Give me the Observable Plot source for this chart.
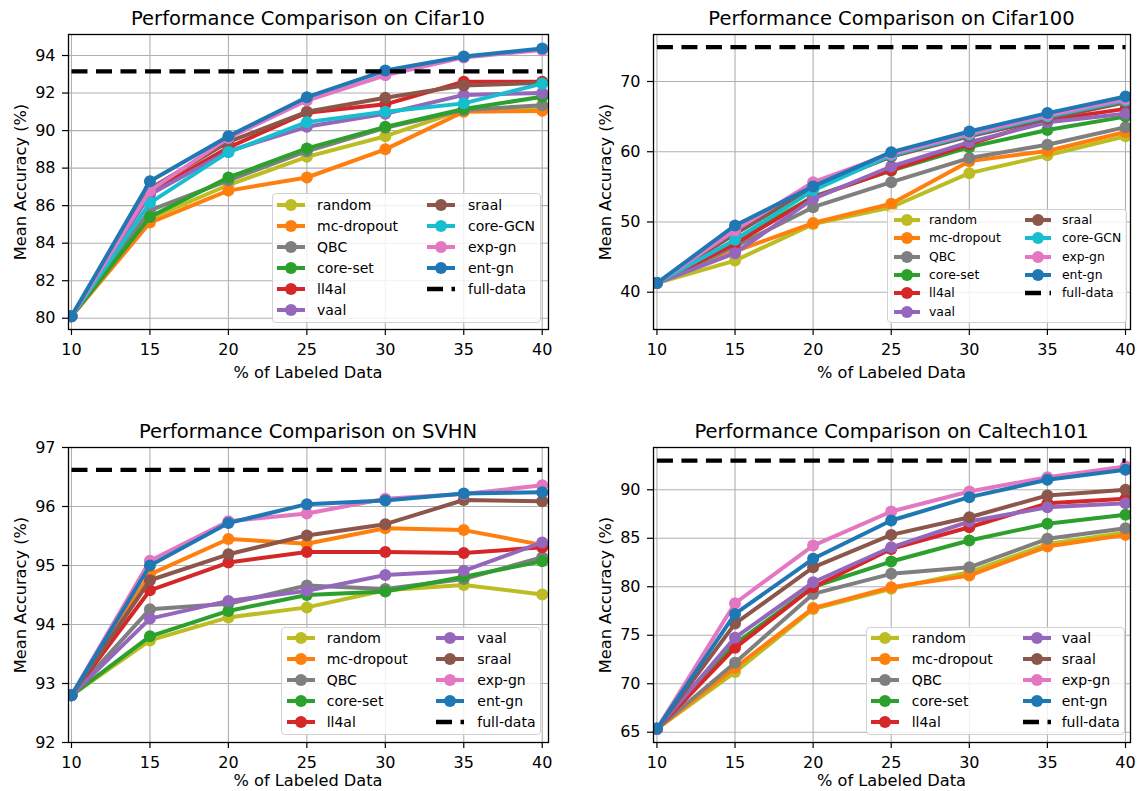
<!DOCTYPE html>
<html>
<head>
<meta charset="utf-8">
<script src="https://cdn.jsdelivr.net/npm/d3@7"></script>
<script src="https://cdn.jsdelivr.net/npm/@observablehq/plot@0.6"></script>
<style>
  html, body { margin: 0; padding: 0; background: #fff; }
  #root { position: relative; width: 1139px; height: 791px; overflow: hidden; font-family: "DejaVu Sans", sans-serif; color: #000; }
  .abs { position: absolute; white-space: nowrap; }
  .title { font-size: 19.5px; transform: translate(-50%, -50%); }
  .xlabel { font-size: 16.2px; transform: translate(-50%, -50%); }
  .ylabel { font-size: 16.2px; transform: translate(-50%, -50%) rotate(-90deg); }
  .legbox { border: 1px solid #d2d2d2; border-radius: 4px; background: rgba(255,255,255,0.82); box-sizing: border-box; }
  .legtext { transform: translateY(-50%); line-height: 1; }
</style>
</head>
<body>
<div id="root"></div>
<script>
// ---------------- data ----------------
const xValues = [10, 15, 20, 25, 30, 35, 40];
const xTicks = [10, 15, 20, 25, 30, 35, 40];

const cifarMethods = ["random", "mc-dropout", "QBC", "core-set", "ll4al", "vaal", "sraal", "core-GCN", "exp-gn", "ent-gn"];
const otherMethods = ["random", "mc-dropout", "QBC", "core-set", "ll4al", "vaal", "sraal", "exp-gn", "ent-gn"];

const cifar10Acc = {
  "random":     [80.1, 85.3, 87.1, 88.6, 89.7, 91.1, 91.15],
  "mc-dropout": [80.1, 85.1, 86.8, 87.5, 89.0, 91.0, 91.05],
  "QBC":        [80.1, 85.75, 87.35, 88.9, 90.15, 91.1, 91.35],
  "core-set":   [80.1, 85.4, 87.5, 89.05, 90.2, 91.15, 91.8],
  "ll4al":      [80.1, 86.7, 89.1, 90.95, 91.4, 92.6, 92.6],
  "vaal":       [80.1, 86.6, 88.9, 90.2, 90.9, 91.9, 92.0],
  "sraal":      [80.1, 86.9, 89.4, 91.0, 91.75, 92.4, 92.55],
  "core-GCN":   [80.1, 86.15, 88.85, 90.45, 91.0, 91.45, 92.5],
  "exp-gn":     [80.1, 86.8, 89.6, 91.6, 92.95, 93.9, 94.3],
  "ent-gn":     [80.1, 87.3, 89.7, 91.78, 93.2, 93.95, 94.38]
};
const cifar10Full = 93.15;
const cifar10YTicks = [80, 82, 84, 86, 88, 90, 92, 94];

const cifar100Acc = {
  "random":     [41.3, 44.5, 49.7, 52.1, 56.95, 59.5, 62.2],
  "mc-dropout": [41.3, 45.8, 49.85, 52.6, 58.66, 60.1, 62.8],
  "QBC":        [41.3, 46.5, 52.1, 55.67, 59.1, 61.0, 63.5],
  "core-set":   [41.3, 47.2, 53.6, 57.3, 60.65, 63.1, 65.0],
  "ll4al":      [41.3, 46.9, 53.5, 57.4, 61.1, 64.5, 66.1],
  "vaal":       [41.3, 45.56, 53.3, 57.9, 61.36, 64.2, 65.4],
  "sraal":      [41.3, 48.3, 54.9, 59.3, 62.2, 64.7, 67.05],
  "core-GCN":   [41.3, 47.46, 54.5, 59.5, 62.4, 65.0, 67.3],
  "exp-gn":     [41.3, 48.8, 55.67, 59.7, 62.6, 65.2, 67.5],
  "ent-gn":     [41.3, 49.5, 55.06, 59.94, 62.88, 65.5, 67.86]
};
const cifar100Full = 74.9;
const cifar100YTicks = [40, 50, 60, 70];

const svhnAcc = {
  "random":     [92.8, 93.73, 94.12, 94.29, 94.58, 94.67, 94.51],
  "mc-dropout": [92.8, 94.85, 95.45, 95.37, 95.63, 95.6, 95.35],
  "QBC":        [92.8, 94.26, 94.35, 94.66, 94.6, 94.77, 95.14],
  "core-set":   [92.8, 93.8, 94.23, 94.5, 94.56, 94.81, 95.07],
  "ll4al":      [92.8, 94.58, 95.05, 95.23, 95.23, 95.21, 95.31],
  "vaal":       [92.8, 94.1, 94.4, 94.57, 94.84, 94.91, 95.39],
  "sraal":      [92.8, 94.75, 95.19, 95.51, 95.7, 96.11, 96.09],
  "exp-gn":     [92.8, 95.08, 95.75, 95.88, 96.13, 96.21, 96.36],
  "ent-gn":     [92.8, 95.0, 95.72, 96.04, 96.1, 96.22, 96.24]
};
const svhnFull = 96.62;
const svhnYTicks = [92, 93, 94, 95, 96, 97];

const caltechAcc = {
  "random":     [65.35, 71.2, 77.7, 79.8, 81.5, 84.4, 85.6],
  "mc-dropout": [65.35, 71.65, 77.8, 79.95, 81.15, 84.15, 85.35],
  "QBC":        [65.35, 72.17, 79.26, 81.33, 82.0, 84.94, 86.04],
  "core-set":   [65.35, 74.1, 80.0, 82.6, 84.77, 86.5, 87.42],
  "ll4al":      [65.35, 73.7, 79.95, 83.9, 86.14, 88.6, 89.07],
  "vaal":       [65.35, 74.75, 80.46, 84.07, 86.73, 88.2, 88.62],
  "sraal":      [65.35, 76.2, 82.0, 85.35, 87.17, 89.41, 90.0],
  "exp-gn":     [65.35, 78.3, 84.25, 87.76, 89.82, 91.3, 92.4],
  "ent-gn":     [65.35, 77.2, 82.88, 86.83, 89.24, 91.03, 92.06]
};
const caltechFull = 93.0;
const caltechYTicks = [65, 70, 75, 80, 85, 90];

// ---------------- styles ----------------
const colors = {
  "random": "#bcbd22", "mc-dropout": "#ff7f0e", "QBC": "#7f7f7f", "core-set": "#2ca02c",
  "ll4al": "#d62728", "vaal": "#9467bd", "sraal": "#8c564b", "core-GCN": "#17becf",
  "exp-gn": "#e377c2", "ent-gn": "#1f77b4"
};
const LW = 4, R = 6, DASH = "16,8.5";

const panels = [
  { name: "Cifar10", acc: cifar10Acc, methods: cifarMethods, full: cifar10Full, yTicks: cifar10YTicks,
    yDomain: [79.4, 95.12], xDomain: [9.81, 40.4], frame: { l: 68, r: 548, t: 34, b: 329 }, xlabOff: 43,
    leg: { box: [272, 193, 541, 323], y0: 205, dy: 20.9, mx: [291, 441], tx: [317, 468], font: 14, half: 14, rows: 6 } },
  { name: "Cifar100", acc: cifar100Acc, methods: cifarMethods, full: cifar100Full, yTicks: cifar100YTicks,
    yDomain: [34.69, 76.69], xDomain: [9.78, 40.32], frame: { l: 653, r: 1130, t: 34, b: 329 }, xlabOff: 43,
    leg: { box: [887, 209, 1127, 323], y0: 220, dy: 18.35, mx: [906.5, 1038], tx: [929, 1062], font: 12.4, half: 13, rows: 6 } },
  { name: "SVHN", acc: svhnAcc, methods: otherMethods, full: svhnFull, yTicks: svhnYTicks,
    yDomain: [92, 97], xDomain: [9.81, 40.4], frame: { l: 68, r: 548, t: 447, b: 742 }, xlabOff: 38,
    leg: { box: [281, 627, 541, 735], y0: 638.3, dy: 20.85, mx: [300.7, 450], tx: [326.7, 477.3], font: 14, half: 14, rows: 5 } },
  { name: "Caltech101", acc: caltechAcc, methods: otherMethods, full: caltechFull, yTicks: caltechYTicks,
    yDomain: [63.94, 94.36], xDomain: [9.78, 40.32], frame: { l: 653, r: 1130, t: 447, b: 742 }, xlabOff: 38,
    leg: { box: [866, 627, 1125, 735], y0: 638.3, dy: 20.85, mx: [885, 1036.7], tx: [911.7, 1061.7], font: 14, half: 14, rows: 5 } }
];

const root = document.getElementById("root");

function addDiv(cls, text, left, top, extra) {
  const d = document.createElement("div");
  d.className = "abs " + cls;
  d.textContent = text;
  d.style.left = left + "px";
  d.style.top = top + "px";
  if (extra) Object.assign(d.style, extra);
  root.appendChild(d);
  return d;
}

function swatch(method, cx, cy, half) {
  const ns = "http://www.w3.org/2000/svg";
  const w = half * 2 + 16, h = 16;
  const svg = document.createElementNS(ns, "svg");
  svg.setAttribute("width", w); svg.setAttribute("height", h);
  svg.style.position = "absolute";
  svg.style.left = (cx - w / 2) + "px";
  svg.style.top = (cy - h / 2) + "px";
  svg.style.overflow = "visible";
  const line = document.createElementNS(ns, "line");
  line.setAttribute("x1", 8); line.setAttribute("x2", w - 8);
  line.setAttribute("y1", h / 2); line.setAttribute("y2", h / 2);
  if (method === "full-data") {
    line.setAttribute("stroke", "black");
    line.setAttribute("stroke-width", LW + 0.3);
    line.setAttribute("stroke-dasharray", DASH);
    svg.appendChild(line);
  } else {
    line.setAttribute("stroke", colors[method]);
    line.setAttribute("stroke-width", LW);
    svg.appendChild(line);
    const c = document.createElementNS(ns, "circle");
    c.setAttribute("cx", w / 2); c.setAttribute("cy", h / 2); c.setAttribute("r", R);
    c.setAttribute("fill", colors[method]);
    svg.appendChild(c);
  }
  root.appendChild(svg);
}

const intFormat = d => String(Math.round(d));

for (const p of panels) {
  const f = p.frame;
  const mL = 68, mR = 14, mT = 6, mB = 36;
  const width = f.r - f.l + mL + mR;
  const height = f.b - f.t + mT + mB;
  const gridStyle = { stroke: "#b0b0b0", strokeOpacity: 1, strokeWidth: 1.1 };
  const marks = [
    Plot.gridX(xTicks, gridStyle),
    Plot.gridY(p.yTicks, gridStyle)
  ];
  for (const m of p.methods) {
    const rows = xValues.map((x, i) => ({ x, y: p.acc[m][i] }));
    marks.push(Plot.line(rows, { x: "x", y: "y", stroke: colors[m], strokeWidth: LW, clip: true }));
    marks.push(Plot.dot(rows, { x: "x", y: "y", fill: colors[m], r: R, stroke: "none", clip: true }));
  }
  marks.push(Plot.line(xValues.map(x => ({ x, y: p.full })), {
    x: "x", y: "y", stroke: "black", strokeWidth: LW + 0.3, strokeDasharray: DASH, strokeLinecap: "butt", clip: true
  }));
  marks.push(Plot.frame({ stroke: "black", strokeWidth: 1.3 }));
  marks.push(Plot.axisX(xTicks, { tickSize: 6, tickPadding: 8, label: null, strokeWidth: 1.2, tickFormat: intFormat }));
  marks.push(Plot.axisY(p.yTicks, { tickSize: 6, tickPadding: 7, label: null, strokeWidth: 1.2, tickFormat: intFormat }));

  const svg = Plot.plot({
    width, height,
    marginLeft: mL, marginRight: mR, marginTop: mT, marginBottom: mB,
    x: { domain: p.xDomain },
    y: { domain: p.yDomain },
    style: { fontFamily: "DejaVu Sans", fontSize: "16px", color: "black", background: "transparent", overflow: "visible" },
    marks
  });
  svg.style.position = "absolute";
  svg.style.left = (f.l - mL) + "px";
  svg.style.top = (f.t - mT) + "px";
  root.appendChild(svg);

  const cx = (f.l + f.r) / 2;
  addDiv("title", "Performance Comparison on " + p.name, cx, f.t - 16.5);
  addDiv("xlabel", "% of Labeled Data", cx, f.b + p.xlabOff);
  addDiv("ylabel", "Mean Accuracy (%)", f.l - 48, (f.t + f.b) / 2);

  // legend
  const L = p.leg;
  addDiv("legbox", "", L.box[0], L.box[1], { width: (L.box[2] - L.box[0]) + "px", height: (L.box[3] - L.box[1]) + "px" });
  const entries = p.methods.concat(["full-data"]);
  entries.forEach((m, i) => {
    const col = i < L.rows ? 0 : 1;
    const row = col === 0 ? i : i - L.rows;
    const y = L.y0 + row * L.dy;
    swatch(m, L.mx[col], y, L.half);
    addDiv("legtext", m, L.tx[col], y, { fontSize: L.font + "px" });
  });
}
</script>
</body>
</html>
